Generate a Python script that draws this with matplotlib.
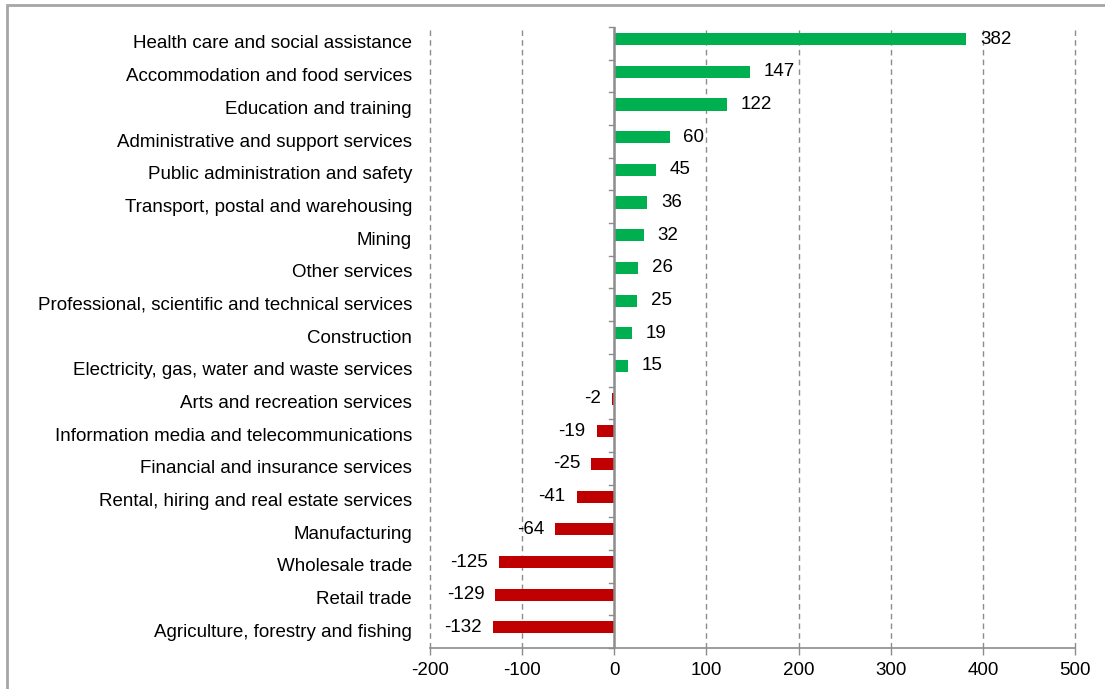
import matplotlib.pyplot as plt
import matplotlib.patches as mpatches
import numpy as np

plt.rcParams['font.family'] = ['Liberation Sans', 'DejaVu Sans']

industries = [
    "Health care and social assistance",
    "Accommodation and food services",
    "Education and training",
    "Administrative and support services",
    "Public administration and safety",
    "Transport, postal and warehousing",
    "Mining",
    "Other services",
    "Professional, scientific and technical services",
    "Construction",
    "Electricity, gas, water and waste services",
    "Arts and recreation services",
    "Information media and telecommunications",
    "Financial and insurance services",
    "Rental, hiring and real estate services",
    "Manufacturing",
    "Wholesale trade",
    "Retail trade",
    "Agriculture, forestry and fishing",
]
change = [382, 147, 122, 60, 45, 36, 32, 26, 25, 19, 15,
          -2, -19, -25, -41, -64, -125, -129, -132]
xticks = [-200, -100, 0, 100, 200, 300, 400, 500]

green = '#00B050'
red = '#C00000'
grey = '#8c8c8c'
fs = 13.5

W, H = 1105, 689
fig = plt.figure(figsize=(W / 100, H / 100), dpi=100)
ax = fig.add_axes([430 / W, 1 - 648 / H, (1075 - 430) / W, (648 - 27) / H])

n = len(industries)
ypos = np.arange(n)
colors = [green if v > 0 else red for v in change]
ax.barh(ypos - 0.13, change, height=0.37, color=colors, zorder=3)

ax.set_xlim(-200, 500)
ax.set_ylim(n - 0.5, -0.5)

# dashed grid, zero line is the axis itself
for x in xticks:
    if x != 0:
        ax.axvline(x, color=grey, lw=1, ls=(0, (4, 3)), zorder=1, clip_on=False)
ax.axvline(0, color=grey, lw=1.8, zorder=4)

ax.set_xticks(xticks)
ax.set_xticklabels([str(x) for x in xticks], fontsize=fs)
ax.tick_params(axis='x', length=5, width=1, color=grey, pad=5)

# category names at the left, separator ticks on the zero axis
ax.set_yticks([])
for i, name in enumerate(industries):
    ax.annotate(name, xy=(0, i + 0.02), xycoords=('axes fraction', 'data'),
                xytext=(-13, 0), textcoords='offset points',
                ha='right', va='center', fontsize=fs)
for b in np.arange(n + 1) - 0.5:
    ax.plot([-6, 0], [b, b], color=grey, lw=1, zorder=4, clip_on=False)

for i, v in enumerate(change):
    if v >= 0:
        ax.annotate(str(v), xy=(v, i - 0.13), xytext=(10, 0),
                    textcoords='offset points', ha='left', va='center',
                    fontsize=fs)
    else:
        ax.annotate(str(v), xy=(v, i - 0.13), xytext=(-8, 0),
                    textcoords='offset points', ha='right', va='center',
                    fontsize=fs)

for s in ['top', 'right', 'left']:
    ax.spines[s].set_visible(False)
ax.spines['bottom'].set_color(grey)
ax.spines['bottom'].set_linewidth(1.2)

# outer frame (cut off at right and bottom in the source)
fig.patches.append(mpatches.Rectangle((7 / W, -0.1), 1.2, 1 - 5 / H + 0.1,
                                      transform=fig.transFigure, fill=False,
                                      edgecolor='#a6a6a6', lw=2))

fig.savefig('out.png', dpi=100)
